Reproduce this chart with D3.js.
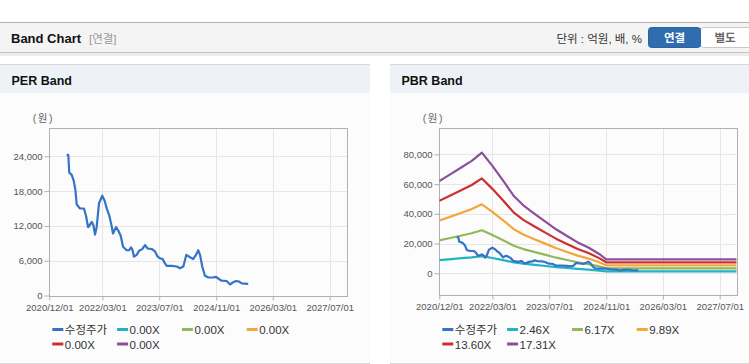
<!DOCTYPE html>
<html>
<head>
<meta charset="utf-8">
<script src="https://cdn.jsdelivr.net/npm/d3@7"></script>
<style>
body{margin:0;background:#fff;}
svg{display:block;font-family:"Liberation Sans",Arial,"Noto Sans CJK KR",sans-serif;}
</style>
</head>
<body>
<svg id="page" width="749" height="364"></svg>
<script>
// 수정주가 (adjusted price)
const priceDates = ['2021-04-29','2021-05-13','2021-05-21','2021-06-11','2021-06-28','2021-07-12','2021-07-24','2021-08-21','2021-09-24','2021-10-12','2021-10-29','2021-11-09','2021-11-29','2021-12-13','2021-12-28','2022-01-11','2022-01-31','2022-02-28','2022-03-21','2022-04-09','2022-04-29','2022-05-16','2022-05-31','2022-06-26','2022-07-15','2022-08-05','2022-08-25','2022-09-25','2022-10-15','2022-11-01','2022-11-12','2022-11-27','2022-12-20','2023-01-09','2023-02-06','2023-03-01','2023-03-24','2023-04-30','2023-05-26','2023-06-18','2023-07-08','2023-07-31','2023-08-14','2023-09-03','2023-10-16','2023-11-28','2023-12-26','2024-01-24','2024-02-18','2024-03-21','2024-04-18','2024-05-11','2024-05-31','2024-06-15','2024-07-04','2024-07-27','2024-08-25','2024-10-06','2024-10-30','2024-11-27','2024-12-17','2025-01-29','2025-02-27','2025-03-27','2025-04-19','2025-05-17','2025-06-07','2025-08-02'];
const priceValues = [24300,24200,21200,20800,19800,18300,15700,15000,15000,13700,11800,12000,12700,12200,10500,11800,15900,17200,16300,14900,13800,12300,10700,11800,11200,10300,8400,7800,7800,8300,8000,6700,7000,7700,8000,8700,8100,8000,7600,6700,6400,6300,5700,5100,5100,5000,4700,5000,7000,6600,6300,7000,7800,7000,5000,3400,3100,3100,3200,2800,2550,2500,1900,2300,2500,2400,2100,2000];

// BPS used by the PBR band lines
const bpsDates = ['2020-12-01','2021-03-15','2021-06-10','2021-09-05','2021-12-01','2022-03-01','2022-06-01','2022-09-01','2022-11-21','2023-03-01','2023-06-01','2023-09-01','2023-12-01','2024-03-01','2024-06-01','2024-09-01','2024-11-01','2027-11-24'];
const bpsValues = [3585,3870,4120,4365,4690,4175,3600,3000,2640,2300,2000,1700,1450,1200,1000,750,543,543];

const perMultiples = [0, 0, 0, 0, 0];
const pbrMultiples = [2.46, 6.17, 9.89, 13.60, 17.31];
const bandColors = ['#1fb3c4', '#8fb95b', '#f2a73b', '#cc2f2f', '#8c4f9c'];
const priceColor = '#3474c6';
const priceLabel = '수정주가';

const xTickLabels = ['2020/12/01', '2022/03/01', '2023/07/01', '2024/11/01', '2026/03/01', '2027/07/01'];
const xDomain = ['2020-12-01', '2027-11-24'];
const perTicks = [0, 6000, 12000, 18000, 24000];
const perDomain = [0, 28830];
const pbrTicks = [0, 20000, 40000, 60000, 80000];
const pbrDomain = [-14600, 97500];

const parse = d3.timeParse('%Y-%m-%d');
const parseTick = d3.timeParse('%Y/%m/%d');
const svg = d3.select('#page');

// ---- top header bar ----
svg.append('rect').attr('x', 0).attr('y', 53).attr('width', 749).attr('height', 3).attr('fill', '#ececec');
svg.append('rect').attr('x', 0).attr('y', 22).attr('width', 749).attr('height', 31)
	.attr('fill', '#f4f4f4').attr('stroke', 'none');
svg.append('line').attr('x1', 0).attr('x2', 749).attr('y1', 22.5).attr('y2', 22.5).attr('stroke', '#b4b4b4');
svg.append('line').attr('x1', 0).attr('x2', 749).attr('y1', 52.5).attr('y2', 52.5).attr('stroke', '#c4c4c4');
svg.append('text').attr('x', 11).attr('y', 43).attr('font-size', 13).attr('font-weight', 'bold')
	.attr('fill', '#111').text('Band Chart');
svg.append('text').attr('x', 89).attr('y', 43).attr('font-size', 11.5).attr('fill', '#999').text('[연결]');
svg.append('text').attr('x', 642).attr('y', 42.5).attr('text-anchor', 'end').attr('font-size', 11.5)
	.attr('fill', '#333').text('단위 : 억원, 배, %');

// buttons
svg.append('rect').attr('x', 700.5).attr('y', 27.5).attr('width', 52).attr('height', 20).attr('rx', 3)
	.attr('fill', '#fff').attr('stroke', '#c8c8c8');
svg.append('rect').attr('x', 648.5).attr('y', 27.5).attr('width', 52).attr('height', 20).attr('rx', 3)
	.attr('fill', '#2f6db0').attr('stroke', '#2a63a0');
svg.append('rect').attr('x', 690).attr('y', 28).attr('width', 10.5).attr('height', 19).attr('fill', '#2f6db0');
svg.append('text').attr('x', 674.5).attr('y', 42).attr('text-anchor', 'middle').attr('font-size', 11.5)
	.attr('font-weight', 'bold').attr('fill', '#fff').text('연결');
svg.append('text').attr('x', 725).attr('y', 42).attr('text-anchor', 'middle').attr('font-size', 11.5)
	.attr('font-weight', 'bold').attr('fill', '#666').text('별도');

// ---- panels ----
function panel(cfg) {
	const g = svg.append('g');
	const left = cfg.left, right = cfg.right;

	g.append('rect').attr('x', left).attr('y', 64).attr('width', right - left).attr('height', 299).attr('fill', '#fcfcfc');
	g.append('rect').attr('x', left).attr('y', 64).attr('width', right - left).attr('height', 29).attr('fill', '#eef2f7');
	g.append('line').attr('x1', left).attr('x2', right).attr('y1', 64.5).attr('y2', 64.5).attr('stroke', '#d8d8d8');
	g.append('line').attr('x1', left).attr('x2', right).attr('y1', 363.5).attr('y2', 363.5).attr('stroke', '#d8d8d8');
	g.append('text').attr('x', left + 11.5).attr('y', 84.5).attr('font-size', 12.5).attr('font-weight', 'bold')
		.attr('fill', '#111').text(cfg.title);

	const x0 = cfg.plotLeft, x1 = x0 + 297.4, yTop = 128.3, yBot = cfg.yBottom;
	const x = d3.scaleTime().domain(xDomain.map(parse)).range([x0, x1]);
	const y = d3.scaleLinear().domain(cfg.yDomain).range([yBot, yTop]);

	g.append('text').attr('x', x0 - 6).attr('y', 122).attr('text-anchor', 'middle').attr('font-size', 10.5)
		.attr('letter-spacing', 1.5).attr('fill', '#666').text('(원)');

	// grid
	g.append('g').selectAll('line').data(cfg.yTicks).enter().append('line')
		.attr('x1', x0).attr('x2', x1).attr('y1', d => Math.round(y(d)) + 0.5).attr('y2', d => Math.round(y(d)) + 0.5)
		.attr('stroke', '#e6e6e6');
	g.append('g').selectAll('line').data(xTickLabels.map(parseTick)).enter().append('line')
		.attr('x1', d => Math.round(x(d)) + 0.5).attr('x2', d => Math.round(x(d)) + 0.5).attr('y1', yTop).attr('y2', yBot)
		.attr('stroke', '#e6e6e6');

	// frame
	g.append('rect').attr('x', Math.round(x0) + 0.5).attr('y', Math.round(yTop) + 0.5)
		.attr('width', Math.round(x1) - Math.round(x0)).attr('height', Math.round(yBot) - Math.round(yTop))
		.attr('fill', 'none').attr('stroke', '#b0b0b0');

	// axes
	const yAxis = g.append('g').attr('transform', `translate(${Math.round(x0) + 0.5},0)`)
		.call(d3.axisLeft(y).tickValues(cfg.yTicks).tickFormat(d3.format(',')).tickSize(5).tickPadding(2));
	const xAxis = g.append('g').attr('transform', `translate(0,${Math.round(yBot) + 0.5})`)
		.call(d3.axisBottom(x).tickValues(xTickLabels.map(parseTick)).tickFormat(d3.timeFormat('%Y/%m/%d'))
			.tickSize(4).tickPadding(4));
	[yAxis, xAxis].forEach(a => {
		a.select('.domain').remove();
		a.selectAll('line').attr('stroke', '#b0b0b0');
		a.selectAll('text').attr('fill', '#555').attr('font-size', 9.5)
			.attr('font-family', '"Liberation Sans",Arial,sans-serif');
	});

	// lines
	const clip = 'clip-' + cfg.title.replace(' ', '');
	g.append('clipPath').attr('id', clip).append('rect')
		.attr('x', x0).attr('y', yTop).attr('width', x1 - x0).attr('height', yBot - yTop);
	const lines = g.append('g').attr('clip-path', `url(#${clip})`);
	const line = d3.line().x(d => x(d.date)).y(d => y(d.value));

	if (cfg.drawBands) {
		cfg.multiples.forEach((m, i) => {
			const pts = bpsDates.map((d, j) => ({date: parse(d), value: bpsValues[j] * m}));
			lines.append('path').datum(pts).attr('d', line).attr('fill', 'none')
				.attr('stroke', bandColors[i]).attr('stroke-width', 2.2).attr('stroke-linejoin', 'round');
		});
	}
	const pricePts = priceDates.map((d, j) => ({date: parse(d), value: priceValues[j]}));
	lines.append('path').datum(pricePts).attr('d', line).attr('fill', 'none')
		.attr('stroke', priceColor).attr('stroke-width', 2.2).attr('stroke-linejoin', 'round');

	// legend
	const items = [{label: priceLabel, color: priceColor}]
		.concat(cfg.multiples.map((m, i) => ({label: m.toFixed(2) + 'X', color: bandColors[i]})));
	const lg = g.append('g');
	items.forEach((it, i) => {
		const lx = x0 + 3 + (i % 4) * 64.8;
		const ly = 329.5 + Math.floor(i / 4) * 14.5;
		lg.append('line').attr('x1', lx).attr('x2', lx + 11).attr('y1', ly).attr('y2', ly)
			.attr('stroke', it.color).attr('stroke-width', 3);
		lg.append('text').attr('x', lx + 12.5).attr('y', ly + 4.5).attr('font-size', 11.5).attr('fill', '#333')
			.text(it.label);
	});
}

panel({title: 'PER Band', left: 0, right: 370, plotLeft: 49.3, yBottom: 295.5, yDomain: perDomain,
	yTicks: perTicks, multiples: perMultiples, drawBands: false});
panel({title: 'PBR Band', left: 390, right: 749, plotLeft: 439.3, yBottom: 295, yDomain: pbrDomain,
	yTicks: pbrTicks, multiples: pbrMultiples, drawBands: true});
</script>
</body>
</html>
